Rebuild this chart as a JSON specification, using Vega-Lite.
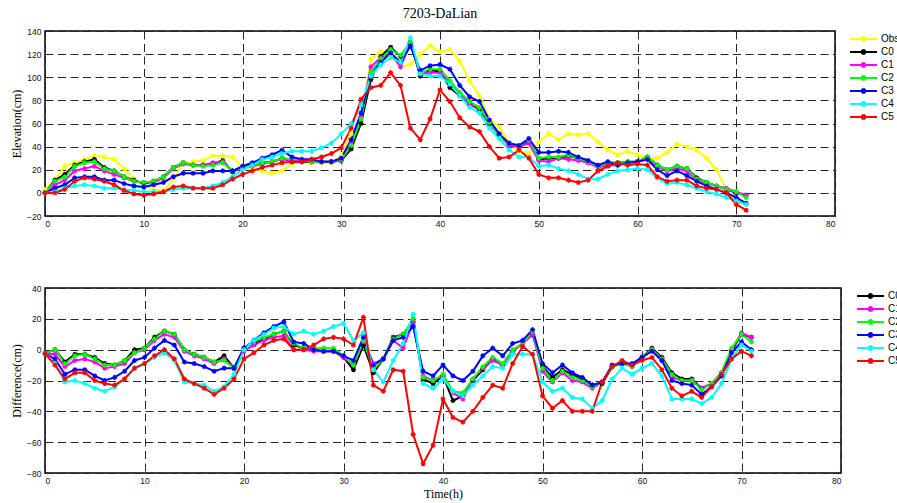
{
  "$schema": "https://vega.github.io/schema/vega-lite/v6.json",
  "background": "white",
  "padding": {"left": 9, "top": 6, "right": 0, "bottom": 0},
  "datasets": {
    "elev": [
      {"t":0,"Obs":3,"C0":0,"C1":0,"C2":0,"C3":0,"C4":0,"C5":0},
      {"t":1,"Obs":11,"C0":11,"C1":7,"C2":10,"C3":4,"C4":1,"C5":0},
      {"t":2,"Obs":23,"C0":16,"C1":11,"C2":14,"C3":7,"C4":4,"C5":3},
      {"t":3,"Obs":26,"C0":24,"C1":19,"C2":23,"C3":13,"C4":6,"C5":10},
      {"t":4,"Obs":29,"C0":27,"C1":21,"C2":26,"C3":14,"C4":7,"C5":13},
      {"t":5,"Obs":32,"C0":29,"C1":23,"C2":27,"C3":14,"C4":6,"C5":12},
      {"t":6,"Obs":31,"C0":22,"C1":19,"C2":21,"C3":11,"C4":4,"C5":10},
      {"t":7,"Obs":29,"C0":19,"C1":16,"C2":19,"C3":11,"C4":4,"C5":7},
      {"t":8,"Obs":21,"C0":14,"C1":13,"C2":14,"C3":8,"C4":3,"C5":2},
      {"t":9,"Obs":12,"C0":11,"C1":10,"C2":10,"C3":6,"C4":2,"C5":-1},
      {"t":10,"Obs":7,"C0":8,"C1":9,"C2":9,"C3":5,"C4":1,"C5":-2},
      {"t":11,"Obs":3,"C0":10,"C1":9,"C2":10,"C3":7,"C4":1,"C5":-1},
      {"t":12,"Obs":2,"C0":14,"C1":13,"C2":14,"C3":9,"C4":1,"C5":1},
      {"t":13,"Obs":12,"C0":22,"C1":21,"C2":22,"C3":14,"C4":3,"C5":5},
      {"t":14,"Obs":26,"C0":26,"C1":25,"C2":26,"C3":17,"C4":4,"C5":6},
      {"t":15,"Obs":27,"C0":24,"C1":24,"C2":24,"C3":17,"C4":4,"C5":4},
      {"t":16,"Obs":28,"C0":24,"C1":24,"C2":23,"C3":17,"C4":4,"C5":4},
      {"t":17,"Obs":32,"C0":25,"C1":26,"C2":24,"C3":19,"C4":6,"C5":4},
      {"t":18,"Obs":32,"C0":28,"C1":27,"C2":26,"C3":19,"C4":9,"C5":7},
      {"t":19,"Obs":31,"C0":18,"C1":19,"C2":19,"C3":19,"C4":14,"C5":12},
      {"t":20,"Obs":22,"C0":22,"C1":21,"C2":22,"C3":23,"C4":20,"C5":16},
      {"t":21,"Obs":22,"C0":24,"C1":23,"C2":24,"C3":26,"C4":24,"C5":19},
      {"t":22,"Obs":19,"C0":26,"C1":25,"C2":26,"C3":30,"C4":29,"C5":22},
      {"t":23,"Obs":17,"C0":27,"C1":27,"C2":27,"C3":33,"C4":31,"C5":24},
      {"t":24,"Obs":19,"C0":30,"C1":29,"C2":30,"C3":37,"C4":34,"C5":26},
      {"t":25,"Obs":25,"C0":27,"C1":28,"C2":29,"C3":31,"C4":36,"C5":27},
      {"t":26,"Obs":27,"C0":27,"C1":28,"C2":29,"C3":29,"C4":36,"C5":27},
      {"t":27,"Obs":26,"C0":27,"C1":27,"C2":27,"C3":29,"C4":36,"C5":29},
      {"t":28,"Obs":26,"C0":27,"C1":27,"C2":27,"C3":27,"C4":39,"C5":31},
      {"t":29,"Obs":26,"C0":27,"C1":27,"C2":27,"C3":27,"C4":43,"C5":34},
      {"t":30,"Obs":32,"C0":28,"C1":28,"C2":29,"C3":30,"C4":51,"C5":39},
      {"t":31,"Obs":51,"C0":38,"C1":42,"C2":41,"C3":46,"C4":60,"C5":56},
      {"t":32,"Obs":60,"C0":60,"C1":66,"C2":64,"C3":69,"C4":76,"C5":81},
      {"t":33,"Obs":116,"C0":98,"C1":109,"C2":104,"C3":101,"C4":101,"C5":91},
      {"t":34,"Obs":122,"C0":118,"C1":117,"C2":116,"C3":113,"C4":111,"C5":93},
      {"t":35,"Obs":118,"C0":126,"C1":121,"C2":124,"C3":121,"C4":117,"C5":104},
      {"t":36,"Obs":109,"C0":118,"C1":109,"C2":119,"C3":113,"C4":113,"C5":93},
      {"t":37,"Obs":111,"C0":130,"C1":129,"C2":130,"C3":127,"C4":134,"C5":56},
      {"t":38,"Obs":120,"C0":101,"C1":103,"C2":104,"C3":106,"C4":103,"C5":46},
      {"t":39,"Obs":127,"C0":106,"C1":104,"C2":107,"C3":110,"C4":101,"C5":64},
      {"t":40,"Obs":122,"C0":105,"C1":104,"C2":107,"C3":111,"C4":101,"C5":89},
      {"t":41,"Obs":124,"C0":91,"C1":96,"C2":97,"C3":107,"C4":94,"C5":79},
      {"t":42,"Obs":114,"C0":84,"C1":86,"C2":87,"C3":93,"C4":84,"C5":65},
      {"t":43,"Obs":97,"C0":77,"C1":77,"C2":79,"C3":83,"C4":74,"C5":57},
      {"t":44,"Obs":84,"C0":72,"C1":73,"C2":74,"C3":79,"C4":69,"C5":53},
      {"t":45,"Obs":64,"C0":60,"C1":61,"C2":61,"C3":63,"C4":56,"C5":40},
      {"t":46,"Obs":57,"C0":50,"C1":50,"C2":50,"C3":51,"C4":47,"C5":30},
      {"t":47,"Obs":43,"C0":42,"C1":41,"C2":43,"C3":43,"C4":37,"C5":31},
      {"t":48,"Obs":36,"C0":40,"C1":40,"C2":41,"C3":41,"C4":31,"C5":37},
      {"t":49,"Obs":34,"C0":44,"C1":43,"C2":46,"C3":47,"C4":31,"C5":30},
      {"t":50,"Obs":44,"C0":29,"C1":28,"C2":30,"C3":35,"C4":23,"C5":16},
      {"t":51,"Obs":51,"C0":30,"C1":27,"C2":31,"C3":35,"C4":24,"C5":13},
      {"t":52,"Obs":46,"C0":30,"C1":30,"C2":31,"C3":36,"C4":21,"C5":13},
      {"t":53,"Obs":51,"C0":32,"C1":29,"C2":33,"C3":35,"C4":19,"C5":11},
      {"t":54,"Obs":50,"C0":30,"C1":28,"C2":30,"C3":31,"C4":16,"C5":9},
      {"t":55,"Obs":51,"C0":27,"C1":26,"C2":27,"C3":28,"C4":12,"C5":11},
      {"t":56,"Obs":44,"C0":23,"C1":22,"C2":23,"C3":24,"C4":12,"C5":19},
      {"t":57,"Obs":37,"C0":26,"C1":24,"C2":26,"C3":27,"C4":16,"C5":23},
      {"t":58,"Obs":33,"C0":26,"C1":24,"C2":26,"C3":24,"C4":19,"C5":26},
      {"t":59,"Obs":36,"C0":27,"C1":26,"C2":27,"C3":26,"C4":20,"C5":24},
      {"t":60,"Obs":33,"C0":27,"C1":27,"C2":27,"C3":27,"C4":21,"C5":25},
      {"t":61,"Obs":30,"C0":31,"C1":29,"C2":31,"C3":29,"C4":20,"C5":24},
      {"t":62,"Obs":30,"C0":24,"C1":23,"C2":24,"C3":20,"C4":13,"C5":14},
      {"t":63,"Obs":35,"C0":20,"C1":19,"C2":20,"C3":15,"C4":8,"C5":10},
      {"t":64,"Obs":42,"C0":23,"C1":21,"C2":23,"C3":19,"C4":9,"C5":11},
      {"t":65,"Obs":40,"C0":21,"C1":19,"C2":21,"C3":15,"C4":7,"C5":11},
      {"t":66,"Obs":37,"C0":13,"C1":11,"C2":12,"C3":10,"C4":4,"C5":6},
      {"t":67,"Obs":30,"C0":9,"C1":8,"C2":9,"C3":6,"C4":1,"C5":4},
      {"t":68,"Obs":20,"C0":6,"C1":6,"C2":6,"C3":3,"C4":-1,"C5":3},
      {"t":69,"Obs":3,"C0":3,"C1":4,"C2":3,"C3":0,"C4":-4,"C5":0},
      {"t":70,"Obs":-9,"C0":0,"C1":1,"C2":1,"C3":-4,"C4":-7,"C5":-10},
      {"t":71,"Obs":-9,"C0":-2,"C1":-2,"C2":-4,"C3":-9,"C4":-10,"C5":-15}
    ],
    "diff": [
      {"t":0,"C0":-2.5,"C1":-2.5,"C2":-2.5,"C3":-2.5,"C4":-2.5,"C5":-2.5},
      {"t":1,"C0":0,"C1":-3,"C2":0,"C3":-6,"C4":-9,"C5":-10},
      {"t":2,"C0":-8,"C1":-11,"C2":-9,"C3":-16,"C4":-21,"C5":-19},
      {"t":3,"C0":-3,"C1":-7,"C2":-4,"C3":-13,"C4":-20,"C5":-15},
      {"t":4,"C0":-3,"C1":-6,"C2":-3,"C3":-13,"C4":-22,"C5":-15},
      {"t":5,"C0":-5,"C1":-8,"C2":-6,"C3":-17,"C4":-25,"C5":-20},
      {"t":6,"C0":-9,"C1":-12,"C2":-10,"C3":-20,"C4":-27,"C5":-22},
      {"t":7,"C0":-10,"C1":-11,"C2":-10,"C3":-18,"C4":-24,"C5":-23},
      {"t":8,"C0":-7,"C1":-9,"C2":-7,"C3":-14,"C4":-19,"C5":-19},
      {"t":9,"C0":0,"C1":-2,"C2":-2,"C3":-7,"C4":-12,"C5":-12},
      {"t":10,"C0":1,"C1":0,"C2":1,"C3":-5,"C4":-9,"C5":-9},
      {"t":11,"C0":8,"C1":6,"C2":7,"C3":1,"C4":-5,"C5":-4},
      {"t":12,"C0":12,"C1":10,"C2":12,"C3":6,"C4":-2,"C5":0},
      {"t":13,"C0":10,"C1":8,"C2":10,"C3":3,"C4":-7,"C5":-6},
      {"t":14,"C0":0,"C1":-1,"C2":0,"C3":-8,"C4":-21,"C5":-19},
      {"t":15,"C0":-3,"C1":-4,"C2":-3,"C3":-9,"C4":-22,"C5":-22},
      {"t":16,"C0":-5,"C1":-6,"C2":-5,"C3":-11,"C4":-23,"C5":-25},
      {"t":17,"C0":-8,"C1":-9,"C2":-8,"C3":-14,"C4":-27,"C5":-29},
      {"t":18,"C0":-4,"C1":-6,"C2":-7,"C3":-12,"C4":-24,"C5":-25},
      {"t":19,"C0":-12,"C1":-12,"C2":-12,"C3":-12,"C4":-16,"C5":-19},
      {"t":20,"C0":1,"C1":-1,"C2":0,"C3":1,"C4":0,"C5":-6},
      {"t":21,"C0":4,"C1":3,"C2":5,"C3":6,"C4":6,"C5":-2},
      {"t":22,"C0":7,"C1":6,"C2":8,"C3":11,"C4":10,"C5":3},
      {"t":23,"C0":10,"C1":8,"C2":10,"C3":15,"C4":14,"C5":6},
      {"t":24,"C0":12,"C1":9,"C2":12,"C3":18,"C4":15,"C5":7},
      {"t":25,"C0":3,"C1":0,"C2":4,"C3":5,"C4":10,"C5":0},
      {"t":26,"C0":1,"C1":0,"C2":1,"C3":4,"C4":12,"C5":0},
      {"t":27,"C0":0,"C1":-1,"C2":1,"C3":0,"C4":10,"C5":3},
      {"t":28,"C0":-1,"C1":-1,"C2":1,"C3":-1,"C4":12,"C5":7},
      {"t":29,"C0":-1,"C1":-1,"C2":1,"C3":-1,"C4":15,"C5":8},
      {"t":30,"C0":-5,"C1":-5,"C2":-4,"C3":-4,"C4":17,"C5":7},
      {"t":31,"C0":-13,"C1":-10,"C2":-10,"C3":-7,"C4":6,"C5":3},
      {"t":32,"C0":3,"C1":5,"C2":6,"C3":8,"C4":11,"C5":21},
      {"t":33,"C0":-15,"C1":-9,"C2":-13,"C3":-10,"C4":-13,"C5":-23},
      {"t":34,"C0":-6,"C1":-6,"C2":-6,"C3":-6,"C4":-21,"C5":-27},
      {"t":35,"C0":8,"C1":6,"C2":7,"C3":6,"C4":-7,"C5":-13},
      {"t":36,"C0":10,"C1":1,"C2":10,"C3":8,"C4":4,"C5":-14},
      {"t":37,"C0":18,"C1":18,"C2":20,"C3":15,"C4":23,"C5":-55},
      {"t":38,"C0":-19,"C1":-17,"C2":-18,"C3":-14,"C4":-22,"C5":-74},
      {"t":39,"C0":-22,"C1":-20,"C2":-20,"C3":-17,"C4":-25,"C5":-62},
      {"t":40,"C0":-17,"C1":-17,"C2":-16,"C3":-10,"C4":-19,"C5":-32},
      {"t":41,"C0":-33,"C1":-28,"C2":-27,"C3":-17,"C4":-27,"C5":-44},
      {"t":42,"C0":-30,"C1":-32,"C2":-28,"C3":-20,"C4":-30,"C5":-47},
      {"t":43,"C0":-20,"C1":-19,"C2":-19,"C3":-14,"C4":-23,"C5":-40},
      {"t":44,"C0":-13,"C1":-12,"C2":-11,"C3":-4,"C4":-17,"C5":-31},
      {"t":45,"C0":-6,"C1":-7,"C2":-5,"C3":1,"C4":-11,"C5":-23},
      {"t":46,"C0":-10,"C1":-10,"C2":-9,"C3":-4,"C4":-12,"C5":-25},
      {"t":47,"C0":-1,"C1":-1,"C2":0,"C3":4,"C4":-3,"C5":-9},
      {"t":48,"C0":4,"C1":4,"C2":4,"C3":6,"C4":-3,"C5":2},
      {"t":49,"C0":10,"C1":10,"C2":12,"C3":13,"C4":-3,"C5":-3},
      {"t":50,"C0":-11,"C1":-14,"C2":-12,"C3":-9,"C4":-21,"C5":-30},
      {"t":51,"C0":-18,"C1":-21,"C2":-20,"C3":-15,"C4":-27,"C5":-38},
      {"t":52,"C0":-13,"C1":-15,"C2":-14,"C3":-10,"C4":-25,"C5":-33},
      {"t":53,"C0":-16,"C1":-20,"C2":-18,"C3":-15,"C4":-31,"C5":-40},
      {"t":54,"C0":-19,"C1":-21,"C2":-20,"C3":-18,"C4":-32,"C5":-40},
      {"t":55,"C0":-23,"C1":-25,"C2":-24,"C3":-23,"C4":-38,"C5":-40},
      {"t":56,"C0":-22,"C1":-21,"C2":-21,"C3":-21,"C4":-33,"C5":-21},
      {"t":57,"C0":-11,"C1":-11,"C2":-11,"C3":-10,"C4":-19,"C5":-11},
      {"t":58,"C0":-9,"C1":-8,"C2":-9,"C3":-9,"C4":-12,"C5":-7},
      {"t":59,"C0":-10,"C1":-11,"C2":-11,"C3":-9,"C4":-16,"C5":-10},
      {"t":60,"C0":-5,"C1":-5,"C2":-5,"C3":-5,"C4":-12,"C5":-7},
      {"t":61,"C0":1,"C1":0,"C2":0,"C3":-1,"C4":-9,"C5":-5},
      {"t":62,"C0":-5,"C1":-7,"C2":-6,"C3":-7,"C4":-17,"C5":-13},
      {"t":63,"C0":-15,"C1":-18,"C2":-16,"C3":-20,"C4":-32,"C5":-25},
      {"t":64,"C0":-19,"C1":-20,"C2":-20,"C3":-22,"C4":-32,"C5":-30},
      {"t":65,"C0":-19,"C1":-20,"C2":-20,"C3":-23,"C4":-32,"C5":-27},
      {"t":66,"C0":-25,"C1":-25,"C2":-26,"C3":-29,"C4":-35,"C5":-31},
      {"t":67,"C0":-22,"C1":-22,"C2":-22,"C3":-24,"C4":-31,"C5":-24},
      {"t":68,"C0":-15,"C1":-15,"C2":-15,"C3":-17,"C4":-22,"C5":-16},
      {"t":69,"C0":-1,"C1":0,"C2":1,"C3":-2,"C4":-6,"C5":-6},
      {"t":70,"C0":10,"C1":11,"C2":10,"C3":5,"C4":3,"C5":-1},
      {"t":71,"C0":8,"C1":8,"C2":5,"C3":0,"C4":-1,"C5":-4}
    ]
  },
  "config": {
    "font": "Liberation Sans",
    "view": {"stroke": "#000000", "strokeWidth": 1.5},
    "axis": {
      "domain": false,
      "ticks": false,
      "grid": true,
      "gridColor": "#262626",
      "gridDash": [8, 4.5],
      "gridWidth": 1,
      "labelFont": "Liberation Sans",
      "labelFontSize": 8.5,
      "labelColor": "#111111",
      "titleFont": "Liberation Serif",
      "titleFontSize": 12,
      "titleFontWeight": "normal",
      "titleColor": "#000000"
    },
    "axisX": {"labelPadding": 3},
    "axisY": {"labelPadding": 4, "titlePadding": 3},
    "legend": {
      "orient": "none",
      "padding": 0,
      "title": null,
      "labelFont": "Liberation Sans",
      "labelFontSize": 10,
      "labelColor": "#000000",
      "labelOffset": 11.5,
      "rowPadding": -1
    }
  },
  "spacing": 54,
  "resolve": {"scale": {"color": "independent"}},
  "vconcat": [
    {
      "title": {"text": "7203-DaLian", "font": "Liberation Serif", "fontSize": 14, "fontWeight": "normal", "color": "#000000", "offset": 6},
      "width": 790,
      "height": 185,
      "data": {"name": "elev"},
      "transform": [{"fold": ["Obs", "C0", "C1", "C2", "C3", "C4", "C5"], "as": ["series", "value"]}],
      "encoding": {
        "x": {"field": "t", "type": "quantitative", "scale": {"domain": [0, 80], "nice": false},
              "axis": {"values": [0, 10, 20, 30, 40, 50, 60, 70, 80], "title": null}},
        "y": {"field": "value", "type": "quantitative", "scale": {"domain": [-20, 140], "nice": false},
              "axis": {"values": [-20, 0, 20, 40, 60, 80, 100, 120, 140], "title": "Elevation(cm)"}},
        "color": {"field": "series", "type": "nominal",
                  "scale": {"domain": ["Obs", "C0", "C1", "C2", "C3", "C4", "C5"],
                            "range": ["#ffff00", "#000000", "#ff00ff", "#00ff00", "#0000ff", "#00ffff", "#ff0000"]},
                  "legend": {"legendX": 812.5, "legendY": 2,
                             "symbolType": "M-2.7,0L2.7,0M0,-0.55L0,0.55M-0.4,-0.4L0.4,0.4M-0.4,0.4L0.4,-0.4",
                             "symbolSize": 100, "symbolStrokeWidth": 2, "symbolFillColor": "transparent"}}
      },
      "layer": [
        {"mark": {"type": "line", "strokeWidth": 2}},
        {"mark": {"type": "point", "shape": "M-1,0L1,0M0,-1L0,1M-0.7,-0.7L0.7,0.7M-0.7,0.7L0.7,-0.7", "size": 26, "filled": false, "strokeWidth": 1.2, "opacity": 1}}
      ]
    },
    {
      "width": 796,
      "height": 185,
      "data": {"name": "diff"},
      "transform": [{"fold": ["C0", "C1", "C2", "C3", "C4", "C5"], "as": ["series", "value"]}],
      "encoding": {
        "x": {"field": "t", "type": "quantitative", "scale": {"domain": [0, 80], "nice": false},
              "axis": {"values": [0, 10, 20, 30, 40, 50, 60, 70, 80], "title": "Time(h)", "titlePadding": 4}},
        "y": {"field": "value", "type": "quantitative", "scale": {"domain": [-80, 40], "nice": false},
              "axis": {"values": [-80, -60, -40, -20, 0, 20, 40], "title": "Difference(cm)"}},
        "color": {"field": "series", "type": "nominal",
                  "scale": {"domain": ["C0", "C1", "C2", "C3", "C4", "C5"],
                            "range": ["#000000", "#ff00ff", "#00ff00", "#0000ff", "#00ffff", "#ff0000"]},
                  "legend": {"legendX": 819.5, "legendY": 2,
                             "symbolType": "M-2.7,0L2.7,0M0,-0.55L0,0.55M-0.4,-0.4L0.4,0.4M-0.4,0.4L0.4,-0.4",
                             "symbolSize": 100, "symbolStrokeWidth": 2, "symbolFillColor": "transparent"}}
      },
      "layer": [
        {"mark": {"type": "line", "strokeWidth": 2}},
        {"mark": {"type": "point", "shape": "M-1,0L1,0M0,-1L0,1M-0.7,-0.7L0.7,0.7M-0.7,0.7L0.7,-0.7", "size": 26, "filled": false, "strokeWidth": 1.2, "opacity": 1}}
      ]
    }
  ]
}
